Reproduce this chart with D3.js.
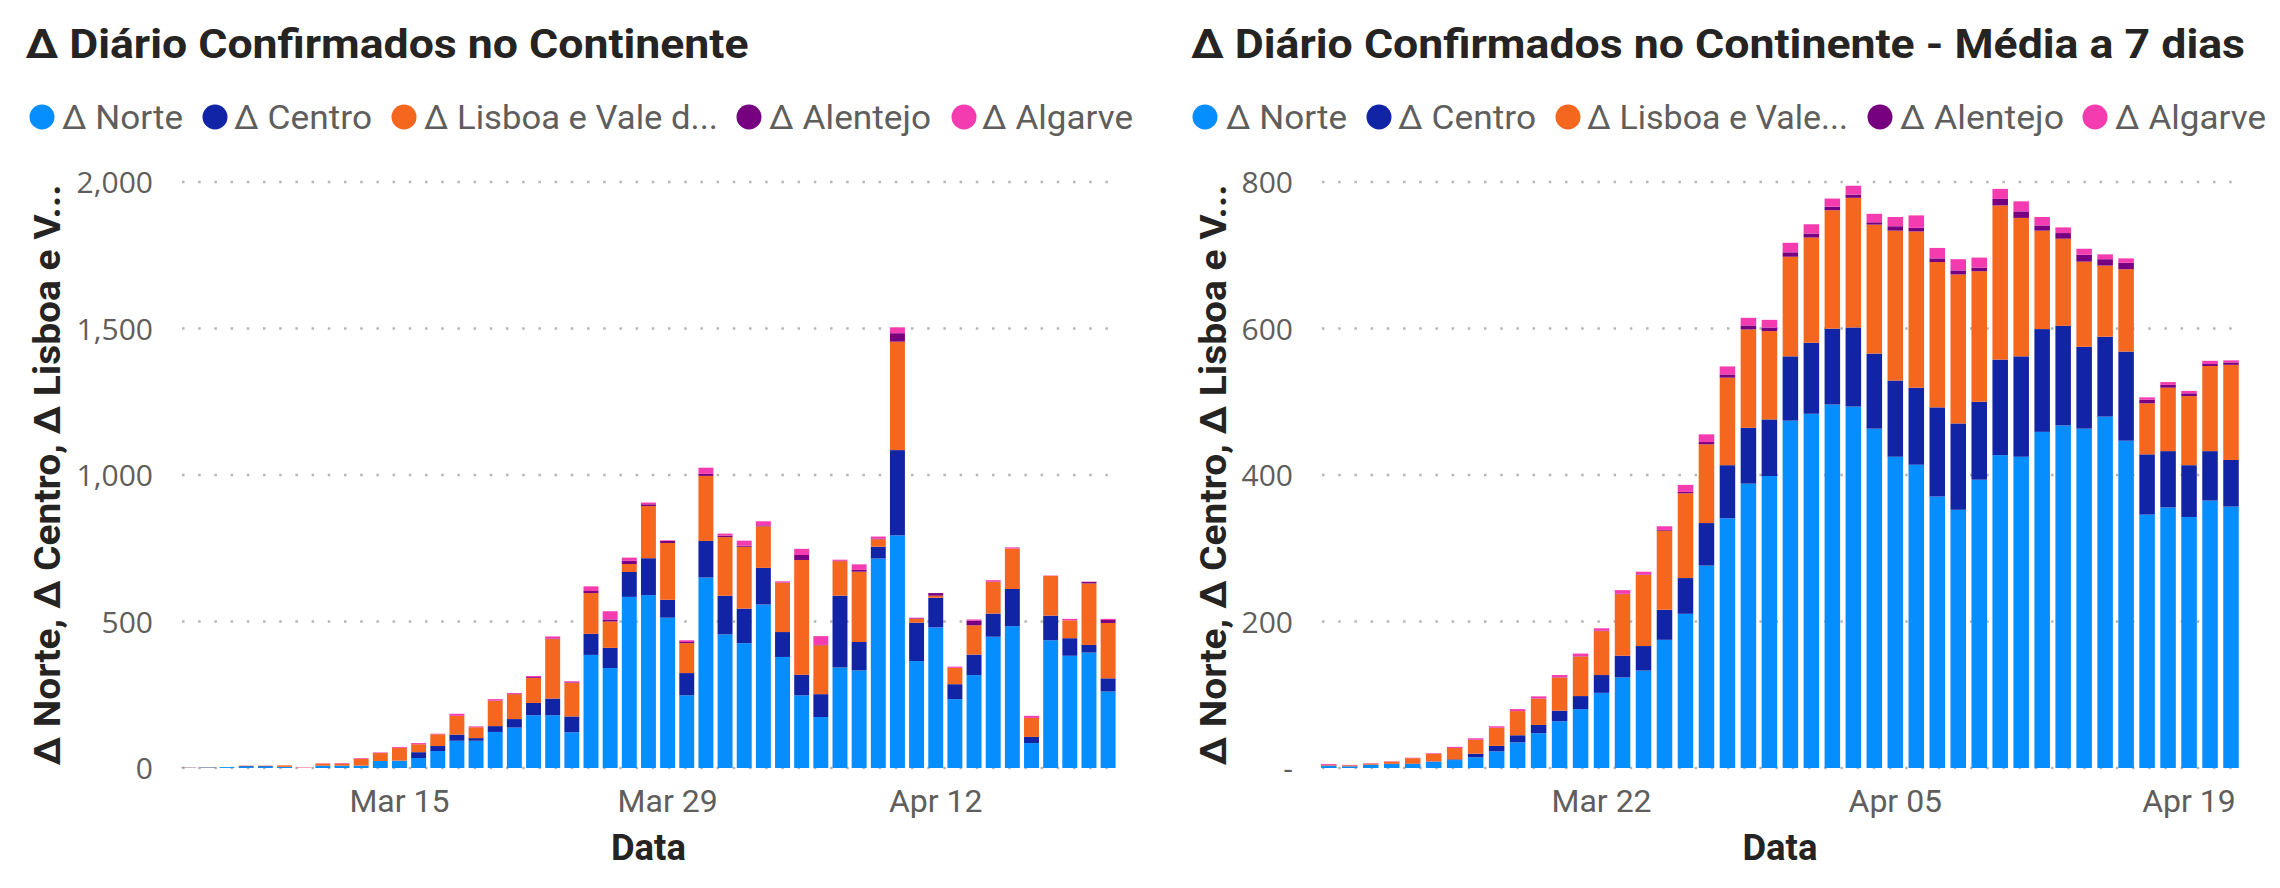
<!DOCTYPE html>
<html><head><meta charset="utf-8">
<script src="https://cdn.jsdelivr.net/npm/d3@7"></script>
<style>body{margin:0;background:#fff}</style>
</head><body>
<svg id="c" width="2280" height="888"></svg>
<script>
// ---------------- DATA ----------------
const seriesKeys = ["norte","centro","lisboa","alentejo","algarve"];
const seriesColors = ["#068EFF","#1224A6","#F5661F","#76007F","#F43BB0"];

const leftTitle = "Δ Diário Confirmados no Continente";
const rightTitle = "Δ Diário Confirmados no Continente - Média a 7 dias";
const leftLegend = ["Δ Norte","Δ Centro","Δ Lisboa e Vale d...","Δ Alentejo","Δ Algarve"];
const rightLegend = ["Δ Norte","Δ Centro","Δ Lisboa e Vale...","Δ Alentejo","Δ Algarve"];
const yAxisTitle = "Δ Norte, Δ Centro, Δ Lisboa e V...";
const xAxisTitle = "Data";

const leftDates = ["2020-03-04","2020-03-05","2020-03-06","2020-03-07","2020-03-08","2020-03-09","2020-03-10",
"2020-03-11","2020-03-12","2020-03-13","2020-03-14","2020-03-15","2020-03-16","2020-03-17",
"2020-03-18","2020-03-19","2020-03-20","2020-03-21","2020-03-22","2020-03-23","2020-03-24",
"2020-03-25","2020-03-26","2020-03-27","2020-03-28","2020-03-29","2020-03-30","2020-03-31",
"2020-04-01","2020-04-02","2020-04-03","2020-04-04","2020-04-05","2020-04-06","2020-04-07",
"2020-04-08","2020-04-09","2020-04-10","2020-04-11","2020-04-12","2020-04-13","2020-04-14",
"2020-04-15","2020-04-16","2020-04-17","2020-04-18","2020-04-19","2020-04-20","2020-04-21"];

const leftNorte = [1,2,3,5,5,4,0, 8,8,8,24,25,34,58, 93,93,123,138,180,180,122, 386,341,584,590,513,248,650,
  456,426,558,379,248,174,343, 333,715,794,365,480,235,317, 448,484,85,436,383,394,261];
const leftCentro = [0,0,0,2,2,0,0, 0,0,0,0,0,20,17, 21,9,20,29,42,57,54, 72,69,85,126,61,76,125,
  132,118,125,85,70,78,245, 97,40,291,131,101,51,70, 79,127,21,84,60,26,45];
const leftLisboa = [1,1,0,1,1,5,1, 7,7,24,27,44,27,40, 64,37,86,85,85,203,114, 139,90,27,178,194,102,222,
  200,211,142,168,392,167,118, 240,26,370,13,7,56,100, 108,138,65,136,61,210,189];
const leftAlentejo = [0,0,0,0,0,0,0, 0,0,0,0,0,0,0, 0,0,1,1,3,2,2, 7,7,11,6,7,4,7,
  5,4,3,1,17,1,1, 6,2,29,2,9,0,16, 1,0,0,0,0,5,10];
const leftAlgarve = [0,0,0,0,0,0,1, 1,2,2,2,3,4,2, 7,3,5,3,4,7,4, 16,28,11,6,2,6,21,
  7,17,14,4,21,30,4, 19,7,20,2,0,4,4, 5,4,7,1,5,1,4];

const rightDates = ["2020-03-09","2020-03-10","2020-03-11","2020-03-12","2020-03-13","2020-03-14","2020-03-15",
"2020-03-16","2020-03-17","2020-03-18","2020-03-19","2020-03-20","2020-03-21","2020-03-22",
"2020-03-23","2020-03-24","2020-03-25","2020-03-26","2020-03-27","2020-03-28","2020-03-29",
"2020-03-30","2020-03-31","2020-04-01","2020-04-02","2020-04-03","2020-04-04","2020-04-05",
"2020-04-06","2020-04-07","2020-04-08","2020-04-09","2020-04-10","2020-04-11","2020-04-12",
"2020-04-13","2020-04-14","2020-04-15","2020-04-16","2020-04-17","2020-04-18","2020-04-19",
"2020-04-20","2020-04-21"];

const rightNorte = [3,2.2,4.3,5.4,5.4,8.6,10.8, 14.6,22.7,35,47.5,63.7,80.4,102.6, 123.6,133,175,210.5,276.3,341,388.2,
  398.6,474.2,483.6,496.2,493.4,463.3,424.9, 414,370.6,352.5,393.6,427.1,424.9,458.9, 467.7,463.3,479.7,446.8,345.9,355.8,342.7,
  365.1,356.9];
const rightCentro = [0.3,0.2,0.3,0.3,0.6,0.3,1, 4.9,7.5,9.7,11.3,14.6,17.8,24.3, 29.7,33.5,41,48.8,58.1,72.4,76.2,
  77.3,87.8,97,103.6,108,102.5,104.1, 105.2,121.7,117.9,106.4,130.5,137.1,140.3, 135.9,111.8,109.1,121.7,82.3,76.8,70.7,
  67.5,63.6];
const rightLisboa = [1,1.3,1.5,3,7.4,10.5,15.6, 19,24.8,33,36,45.3,54,60, 84,97,108,115.7,107.5,119.5,134.3,
  120.6,136,143.6,161.7,177,176,204.6, 213.3,198.5,203.4,178.2,210.4,189,134.4, 119,116.2,97.1,112.4,69.6,86.6,94.3,
  116.2,129.9];
const rightAlentejo = [0,0,0,0,0,0,0, 0,0,0,0.3,0.3,0.4,0.5, 0.5,0.5,1,2,3.1,4.4,5.5,
  4.9,6,5.5,4.9,4.4,3.2,6, 4.9,4.9,5.5,4.9,8.9,8.9,7.1, 7.7,9.4,8.7,8.8,4.9,3.8,3.8,
  2.7,3.3];
const rightAlgarve = [1.2,0.5,0.5,0.5,0.6,0.8,1.5, 2,2,2.7,2.7,3,3.6,3.3, 5,4,5,9.5,10.5,10.9,10.4,
  10.4,13,12.6,11,12.1,11.6,12.6, 17,14.3,15.3,13.7,13.7,13.7,11.5, 7.7,8.2,6.6,6,3.3,3.9,3.3,
  4.4,2.8];

const leftYTicks = [0,500,1000,1500,2000];
const leftYLabels = ["0","500","1,000","1,500","2,000"];
const rightYTicks = [0,200,400,600,800];
const rightYLabels = ["-","200","400","600","800"];
const leftXTicks = ["2020-03-15","2020-03-29","2020-04-12"];
const leftXLabels = ["Mar 15","Mar 29","Apr 12"];
const rightXTicks = ["2020-03-22","2020-04-05","2020-04-19"];
const rightXLabels = ["Mar 22","Apr 05","Apr 19"];

// ---------------- LAYOUT ----------------
const TOP = 182, BASE = 768;
const DIN = "Roboto, 'DejaVu Sans', sans-serif";
const SEGOE = "'Open Sans', 'Noto Sans', sans-serif";
const DARK = "#252423", GRAY = "#605E5C";

const svg = d3.select("#c");
svg.append("rect").attr("width",2280).attr("height",888).attr("fill","#fff");

function fit(sel, w){
  const n = sel.node();
  const cur = n.getComputedTextLength();
  if (Math.abs(cur - w) > 1) sel.attr("textLength", w).attr("lengthAdjust","spacingAndGlyphs");
}

function drawChart(o){
  const g = svg.append("g");
  const rows = o.dates.map((d,i)=>{
    const r = {date:d};
    seriesKeys.forEach((k,j)=> r[k] = o.values[j][i]);
    return r;
  });
  const x = d3.scaleBand().domain(o.dates).range([o.x0,o.x1]).paddingInner(o.pad).paddingOuter(o.pad/2);
  const y = d3.scaleLinear().domain([0,o.yMax]).range([BASE,TOP]);

  // gridlines (dotted)
  g.append("g").selectAll("line").data(o.yTicks).join("line")
    .attr("x1",o.gx0).attr("x2",o.gx1)
    .attr("y1",d=>y(d)).attr("y2",d=>y(d))
    .attr("stroke","#b8b6b4").attr("stroke-width",2.5).attr("stroke-dasharray","2.5 13.7");

  // stacked bars
  const stacked = d3.stack().keys(seriesKeys)(rows);
  g.append("g").selectAll("g").data(stacked).join("g")
    .attr("fill",(d,i)=>seriesColors[i])
    .selectAll("rect").data(d=>d).join("rect")
    .attr("x",d=>x(d.data.date)).attr("width",x.bandwidth())
    .attr("y",d=>y(d[1])).attr("height",d=>Math.max(0,y(d[0])-y(d[1])));

  // y axis
  const ya = g.append("g").attr("transform",`translate(${o.x0},0)`)
    .call(d3.axisLeft(y).tickValues(o.yTicks).tickFormat((d,i)=>o.yLabels[i]).tickSize(0));
  ya.select(".domain").remove();
  ya.selectAll("text").attr("x", o.yTickX - o.x0).attr("dy","0.36em")
    .attr("fill",GRAY).style("font-family",SEGOE).style("font-size","30px");

  // x axis
  const xa = g.append("g").attr("transform",`translate(0,${BASE})`)
    .call(d3.axisBottom(x).tickValues(o.xTicks).tickFormat((d,i)=>o.xLabels[i]).tickSize(0));
  xa.select(".domain").remove();
  xa.selectAll("text").attr("y",44).attr("dy",0)
    .attr("fill",GRAY).style("font-family",DIN).style("font-size","32px");

  // title
  const t = g.append("text").attr("x",o.titleX).attr("y",58).text(o.title)
    .attr("fill",DARK).style("font-family",DIN).style("font-weight","bold").style("font-size","41px");
  fit(t,o.titleW);

  // legend
  o.legend.forEach((lab,i)=>{
    g.append("circle").attr("cx",o.legCX[i]).attr("cy",117).attr("r",12.5).attr("fill",seriesColors[i]);
    const lt = g.append("text").attr("x",o.legTX[i]).attr("y",129).text(lab)
      .attr("fill",GRAY).style("font-family",DIN).style("font-size","34px");
    fit(lt,o.legTW[i]);
  });

  // axis titles
  const xt = g.append("text").attr("x",(o.x0+o.x1)/2).attr("y",859.5).attr("text-anchor","middle").text(xAxisTitle)
    .attr("fill",DARK).style("font-family",DIN).style("font-weight","bold").style("font-size","37.5px");
  fit(xt,75);
  const yt = g.append("text").attr("transform",`translate(${o.yTitleX},${(TOP+BASE)/2}) rotate(-90)`)
    .attr("text-anchor","middle").text(yAxisTitle)
    .attr("fill",DARK).style("font-family",DIN).style("font-weight","bold").style("font-size","37.5px");
  fit(yt,581);
}

drawChart({
  dates:leftDates, values:[leftNorte,leftCentro,leftLisboa,leftAlentejo,leftAlgarve],
  x0:179.2, x1:1117.7, pad:0.22, gx0:182, gx1:1117, yMax:2000,
  yTicks:leftYTicks, yLabels:leftYLabels, yTickX:153,
  xTicks:leftXTicks, xLabels:leftXLabels,
  title:leftTitle, titleX:25.5, titleW:723,
  legend:leftLegend, legCX:[42,215,404,749,964], legTX:[62,234,424,769,982], legTW:[121,138,294,162,151],
  yTitleX:60
});
drawChart({
  dates:rightDates, values:[rightNorte,rightCentro,rightLisboa,rightAlentejo,rightAlgarve],
  x0:1318.3, x1:2241.5, pad:0.26, gx0:1322, gx1:2238, yMax:800,
  yTicks:rightYTicks, yLabels:rightYLabels, yTickX:1293,
  xTicks:rightXTicks, xLabels:rightXLabels,
  title:rightTitle, titleX:1191, titleW:1054,
  legend:rightLegend, legCX:[1205,1379,1568,1880,2095], legTX:[1226,1398,1587,1900,2115], legTW:[121,138,260,164,151],
  yTitleX:1226
});
</script>
</body></html>
